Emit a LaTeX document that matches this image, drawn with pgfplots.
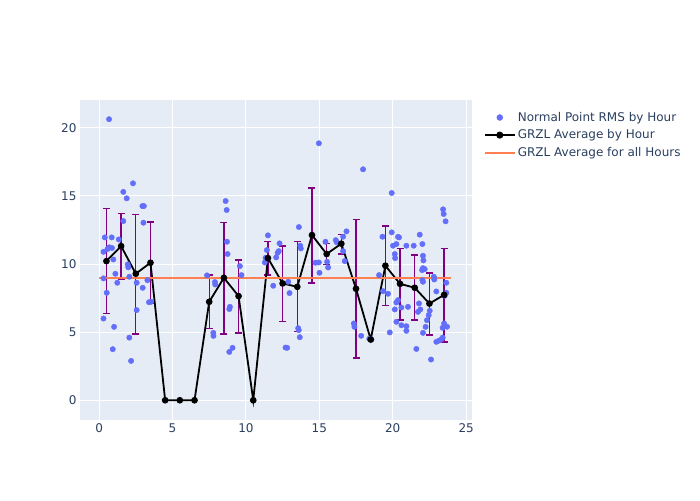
\documentclass[border=0pt]{standalone}
\usepackage{pgfplots}
\pgfplotsset{compat=1.18}
\usepackage{pgfplotstable}
\usepackage{fontspec}
\setmainfont{DejaVu Sans}
\definecolor{bgplot}{HTML}{E5ECF6}
\definecolor{txt}{HTML}{2A3F5F}
\definecolor{ptblue}{HTML}{636EFA}
\definecolor{avgline}{HTML}{FF7F50}
\definecolor{errpurple}{HTML}{800080}

% normal point rms values (hour, rms)
\pgfplotstableread{
x y
0.68 20.64
0.39 11.96
0.86 11.96
1.34 11.81
0.70 11.23
0.88 11.18
0.30 10.90
0.57 11.10
0.97 10.34
0.30 8.95
1.11 9.29
1.24 8.63
0.52 7.89
0.30 6.00
1.02 5.39
0.93 3.75
2.31 15.93
1.65 15.30
1.88 14.83
2.95 14.26
3.05 14.26
1.65 13.16
3.02 13.04
1.95 9.98
1.99 9.76
2.06 9.07
2.56 8.63
3.29 8.82
2.97 8.26
3.54 7.23
3.40 7.20
2.56 6.62
2.06 4.60
2.18 2.89
8.62 14.63
8.69 13.97
8.71 11.64
8.75 10.74
9.59 9.85
9.70 9.19
7.35 9.17
7.89 8.68
7.91 8.50
8.91 6.86
8.87 6.70
7.78 4.95
7.79 4.73
8.87 3.55
9.09 3.85
14.97 18.87
17.98 16.96
13.61 12.72
11.50 12.11
12.29 11.52
13.70 11.35
13.74 11.15
11.43 11.03
12.24 10.95
12.16 10.83
12.06 10.49
11.34 10.46
11.29 10.12
15.42 11.64
16.12 11.76
16.19 11.60
16.62 12.01
16.85 12.40
16.62 10.95
16.73 10.22
14.74 10.10
14.97 10.12
15.53 10.17
15.60 9.75
15.01 9.36
11.86 8.41
12.88 8.70
12.97 7.87
17.35 5.64
17.39 5.39
17.85 4.73
13.56 5.29
13.60 5.15
13.67 4.63
12.70 3.87
12.81 3.85
18.55 4.46
18.40 4.52
19.93 15.22
23.43 14.02
23.47 13.68
23.60 13.14
19.30 12.01
19.93 12.33
20.36 12.00
20.43 11.96
20.02 11.35
20.25 11.47
20.93 11.35
21.43 11.35
21.84 12.16
22.02 11.47
20.14 10.74
20.16 10.44
22.06 10.61
22.09 10.27
22.06 9.70
22.18 9.63
22.00 9.56
19.07 9.19
19.34 8.01
19.68 7.82
22.06 8.70
22.02 8.82
22.80 9.07
22.83 8.87
22.97 7.99
23.65 8.63
23.65 7.89
23.54 7.67
20.36 7.35
20.25 7.18
20.14 6.67
20.59 6.81
21.04 6.86
21.79 7.11
21.88 6.67
21.72 6.49
22.52 6.57
22.45 6.25
22.33 5.88
20.25 5.76
20.59 5.51
20.93 5.44
20.93 5.10
19.80 4.98
22.06 4.95
22.24 5.39
23.50 5.64
23.70 5.40
23.40 5.32
22.97 4.29
23.15 4.38
23.31 4.46
23.40 4.60
21.61 3.77
22.61 2.99
}\rmstable

% hourly averages
\pgfplotstableread{
x y
0.5 10.22
1.5 11.32
2.5 9.29
3.5 10.10
4.5 0
5.5 0
6.5 0
7.5 7.23
8.5 8.99
9.5 7.65
10.5 0
11.5 10.44
12.5 8.58
13.5 8.33
14.5 12.13
15.5 10.74
16.5 11.50
17.5 8.19
18.5 4.46
19.5 9.88
20.5 8.55
21.5 8.26
22.5 7.10
23.5 7.74
}\hourtable

% hours that carry a visible error bar
\pgfplotstableread{
x y ep em
0.5 10.22 3.88 3.87
1.5 11.32 2.38 2.42
2.5 9.29 4.36 4.41
3.5 10.10 2.99 3.00
7.5 7.23 1.96 1.98
8.5 8.99 4.07 4.11
9.5 7.65 2.64 2.70
11.5 10.44 1.20 1.25
12.5 8.58 2.74 2.80
13.5 8.33 3.31 3.30
14.5 12.13 3.47 3.53
15.5 10.74 0.78 0.79
16.5 11.50 0.68 0.76
17.5 8.19 5.09 5.08
19.5 9.88 2.91 2.94
20.5 8.55 2.60 2.67
21.5 8.26 2.40 2.38
22.5 7.10 2.24 2.30
23.5 7.74 3.39 3.45
}\errtable

\begin{document}
\begin{tikzpicture}[x=1pt,y=1pt]
\path[use as bounding box] (-80,-80) rectangle (620,420);
\begin{axis}[
    at={(0,0)}, anchor=south west,
    width=392pt, height=320pt, scale only axis,
    xmin=-1.3, xmax=25.4, ymin=-1.45, ymax=22.05,
    xtick={0,5,...,25}, ytick={0,5,...,20},
    axis background/.style={fill=bgplot},
    axis line style={draw=none},
    major tick length=0pt,
    grid=major,
    major grid style={white, line width=1pt},
    tick label style={font=\fontsize{12}{14}\selectfont, text=txt},
    /pgf/number format/assume math mode=true,
    legend style={at={(1.027,0.975)}, anchor=north west, draw=none, fill=white,
        font=\fontsize{12}{14}\selectfont, text=txt, row sep=3pt,
        inner xsep=1pt, cells={anchor=west}},
    legend cell align=left,
]
\addplot[only marks, color=ptblue, mark=*, mark size=2.7pt,
    mark options={draw=ptblue, fill=ptblue, line width=0.4pt},
    legend image code/.code={\fill[ptblue] (15pt,0pt) circle (3pt);}]
    table[x=x,y=y] {\rmstable};
\addlegendentry{Normal Point RMS by Hour}

\addplot[forget plot, only marks, mark=none, color=errpurple,
    error bars/.cd, y dir=both, y explicit,
    error bar style={draw=errpurple, line width=1.4pt},
    error mark options={rotate=90, draw=errpurple, mark size=3.5pt, line width=1.4pt}]
    table[x=x, y=y, y error plus=ep, y error minus=em] {\errtable};

\addplot[black, line width=1.8pt, mark=*, mark size=2.4pt,
    legend image code/.code={\draw[black, line width=1.8pt] (0pt,0pt) -- (30pt,0pt);
        \fill[black] (15pt,0pt) circle (2.6pt);}]
    table[x=x,y=y] {\hourtable};
\addlegendentry{GRZL Average by Hour}

\addplot[avgline, line width=2pt, mark=none,
    legend image code/.code={\draw[avgline, line width=2pt] (0pt,0pt) -- (30pt,0pt);}]
    coordinates {(0,8.98) (24,8.98)};
\addlegendentry{GRZL Average for all Hours}
\end{axis}
\end{tikzpicture}
\end{document}
